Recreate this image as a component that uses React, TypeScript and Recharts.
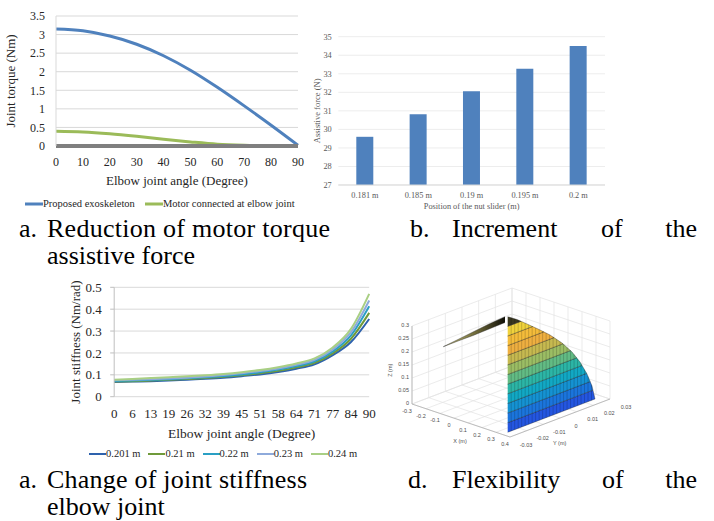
import React from 'react';
import {
  LineChart,
  Line,
  BarChart,
  Bar,
  ComposedChart,
  Area,
  Scatter,
  XAxis,
  YAxis,
  CartesianGrid,
  Legend,
} from 'recharts';

const SERIF = '"Liberation Serif", "Times New Roman", serif';
const SANS = '"Liberation Sans", Arial, sans-serif';

// a. motor torque vs elbow angle
const torqueAngles = [0, 10, 20, 30, 40, 50, 60, 70, 80, 90];
const proposedTorque = [3.15, 3.1, 2.96, 2.74, 2.43, 2.04, 1.58, 1.08, 0.56, 0.02];
const motorTorque = [0.4, 0.38, 0.33, 0.26, 0.18, 0.11, 0.05, 0.02, 0.005, 0];
const torqueTicks = [0, 0.5, 1, 1.5, 2, 2.5, 3, 3.5];

// b. assistive force vs nut slider position
const sliderPositions = ['0.181 m', '0.185 m', '0.19 m', '0.195 m', '0.2 m'];
const assistiveForce = [29.6, 30.82, 32.06, 33.27, 34.5];
const forceTicks = [27, 28, 29, 30, 31, 32, 33, 34, 35];

// c. joint stiffness vs elbow angle
const stiffnessAngles = ['0', '6', '13', '19', '26', '32', '39', '45', '51', '58', '64', '71', '77', '84', '90'];
const k201 = [0.067, 0.069, 0.071, 0.074, 0.078, 0.082, 0.087, 0.094, 0.102, 0.113, 0.128, 0.148, 0.19, 0.25, 0.355];
const k21 = [0.069, 0.071, 0.074, 0.077, 0.081, 0.085, 0.091, 0.098, 0.107, 0.118, 0.134, 0.155, 0.198, 0.265, 0.383];
const k22 = [0.072, 0.074, 0.077, 0.08, 0.084, 0.089, 0.095, 0.102, 0.112, 0.124, 0.14, 0.162, 0.207, 0.28, 0.413];
const k23 = [0.075, 0.077, 0.08, 0.083, 0.087, 0.092, 0.099, 0.107, 0.117, 0.129, 0.146, 0.168, 0.216, 0.295, 0.44];
const k24 = [0.078, 0.081, 0.085, 0.089, 0.093, 0.098, 0.104, 0.112, 0.122, 0.135, 0.152, 0.175, 0.225, 0.31, 0.47];
const stiffnessTicks = [0, 0.1, 0.2, 0.3, 0.4, 0.5];
const slotEdges = [0, 1, 2, 3, 4, 5, 6, 7, 8, 9, 10, 11, 12, 13, 14, 15];

// d. workspace box ticks (m)
const wsX = [-0.3, -0.2, -0.1, 0, 0.1, 0.2, 0.3, 0.4];
const wsY = [-0.03, -0.02, -0.01, 0, 0.01, 0.02, 0.03];
const wsZ = [0, 0.05, 0.1, 0.15, 0.2, 0.25, 0.3];
// surface outline, in the panel's view units
const surfArcU = [507.7, 517, 527, 538, 550, 562, 572, 580, 587, 592, 595];
const surfArcV = [316.7, 319.5, 324, 329, 335, 343, 352, 362, 374, 386, 399];
const surfBottomV = 432.3;
const surfColors = [
  '#2456e0', '#1b75dc', '#1592d2', '#12a8c4', '#2cb5a6', '#62bb84',
  '#9bbd64', '#c6b950', '#eeaf40', '#f4bc3a', '#f0d23c', '#3a3820',
];
const sliverU = [443.3, 458, 473, 489, 505];
const sliverTop = [346.7, 339.5, 332, 324, 316.7];
const sliverBottom = [346.7, 341, 335.5, 329, 322.5];

const torqueData = torqueAngles.map((a, i) => ({ angle: a, proposed: proposedTorque[i], motor: motorTorque[i] }));
const forceData = sliderPositions.map((p, i) => ({ pos: p, force: assistiveForce[i] }));
const stiffnessData = stiffnessAngles.map((a, i) => ({
  angle: a,
  slot: i + 0.5,
  s201: k201[i],
  s21: k21[i],
  s22: k22[i],
  s23: k23[i],
  s24: k24[i],
}));

const XTitle = (props: any) => {
  const { viewBox, text, dy, size, fill = '#262626', family = SERIF } = props;
  return (
    <text x={viewBox.x + viewBox.width / 2} y={viewBox.y + dy} textAnchor="middle" fontFamily={family} fontSize={size} fill={fill}>
      {text}
    </text>
  );
};

const YTitle = (props: any) => {
  const { viewBox, text, tx, size, fill = '#262626' } = props;
  const x = viewBox.x + tx;
  const y = viewBox.y + viewBox.height / 2;
  return (
    <text x={x} y={y} transform={`rotate(-90, ${x}, ${y})`} textAnchor="middle" fontFamily={SERIF} fontSize={size} fill={fill}>
      {text}
    </text>
  );
};

const LineLegend = (props: any) => {
  const { payload = [], fontSize, iconWidth, gap, thick, order = [] } = props;
  const items = payload
    .filter((p: any) => p.type !== 'none' && order.includes(p.value))
    .sort((a: any, b: any) => order.indexOf(a.value) - order.indexOf(b.value));
  return (
    <div style={{ display: 'flex', alignItems: 'center', fontFamily: SERIF, fontSize, color: '#262626', whiteSpace: 'nowrap', lineHeight: '12px' }}>
      {items.map((p: any) => (
        <span key={p.value} style={{ display: 'inline-flex', alignItems: 'center', marginRight: gap }}>
          <svg width={iconWidth} height={6}>
            <line x1={0} y1={3} x2={iconWidth} y2={3} stroke={p.color} strokeWidth={thick} />
          </svg>
          <span>{p.value}</span>
        </span>
      ))}
    </div>
  );
};

const torqueSeries = [
  { key: 'proposed', name: 'Proposed exoskeleton', color: '#4f81bd' },
  { key: 'motor', name: 'Motor connected at elbow joint', color: '#9bbb59' },
];

const TorqueChart = () => (
  <LineChart width={310} height={215} data={torqueData} margin={{ top: 16, right: 12, bottom: 29, left: 0 }}>
    <CartesianGrid vertical={false} stroke="#d9d9d9" />
    <XAxis
      dataKey="angle"
      type="number"
      domain={[0, 90]}
      ticks={torqueAngles}
      interval={0}
      height={40}
      axisLine={{ stroke: '#7f7f7f', strokeWidth: 4 }}
      tickLine={false}
      tickMargin={5}
      tick={{ fontSize: 12, fontFamily: SERIF, fill: '#262626' }}
      label={<XTitle text="Elbow joint angle (Degree)" dy={38.5} size={13} />}
    />
    <YAxis
      domain={[0, 3.5]}
      ticks={torqueTicks}
      interval={0}
      width={56}
      axisLine={{ stroke: '#d9d9d9' }}
      tickLine={false}
      tickMargin={5}
      tick={{ fontSize: 12, fontFamily: SERIF, fill: '#262626' }}
      label={<YTitle text="Joint torque (Nm)" tx={14.5} size={13} />}
    />
    <Legend
      verticalAlign="middle"
      align="center"
      wrapperStyle={{ top: 198, left: 25, width: 300 }}
      content={<LineLegend fontSize={10.5} iconWidth={18} gap={10} thick={3} order={torqueSeries.map((s) => s.name)} />}
    />
    {torqueSeries.map((s) => (
      <Line key={s.key} type="monotone" dataKey={s.key} name={s.name} stroke={s.color} strokeWidth={3} dot={false} isAnimationActive={false} />
    ))}
  </LineChart>
);

const ForceChart = () => (
  <BarChart width={320} height={215} data={forceData} margin={{ top: 36.7, right: 15, bottom: 0, left: 0 }}>
    <CartesianGrid vertical={false} stroke="#ededed" />
    <XAxis
      dataKey="pos"
      height={30}
      axisLine={{ stroke: '#d9d9d9' }}
      tickLine={false}
      tickMargin={1}
      interval={0}
      tick={{ fontSize: 8.3, fontFamily: SERIF, fill: '#595959' }}
      label={<XTitle text="Position of the nut slider (m)" dy={23.5} size={8.3} fill="#595959" />}
    />
    <YAxis
      domain={[27, 35]}
      ticks={forceTicks}
      interval={0}
      width={38.3}
      axisLine={false}
      tickLine={false}
      tickMargin={0.6}
      tick={{ fontSize: 8.3, fontFamily: SERIF, fill: '#595959' }}
      label={<YTitle text="Assistive force (N)" tx={20} size={8.5} fill="#595959" />}
    />
    <Bar dataKey="force" fill="#4f81bd" barSize={17} isAnimationActive={false} />
  </BarChart>
);

const stiffnessSeries = [
  { key: 's201', name: '0.201 m', color: '#2e62ad' },
  { key: 's21', name: '0.21 m', color: '#6f9a3a' },
  { key: 's22', name: '0.22 m', color: '#2a9fc4' },
  { key: 's23', name: '0.23 m', color: '#8eaadb' },
  { key: 's24', name: '0.24 m', color: '#a9cf84' },
];

const StiffnessChart = () => (
  <LineChart width={380} height={200} data={stiffnessData} margin={{ top: 17.3, right: 10.8, bottom: 33.3, left: 0 }}>
    <CartesianGrid vertical={false} stroke="#d9d9d9" xAxisId="cat" />
    <XAxis
      xAxisId="marks"
      type="number"
      dataKey="slot"
      domain={[0, 15]}
      allowDataOverflow
      ticks={slotEdges}
      interval={0}
      tick={false}
      height={0}
      tickSize={4}
      axisLine={{ stroke: '#bfbfbf' }}
      tickLine={{ stroke: '#bfbfbf' }}
    />
    <XAxis
      xAxisId="cat"
      dataKey="angle"
      height={40}
      axisLine={false}
      tickLine={false}
      interval={0}
      tickMargin={6.4}
      tick={{ fontSize: 13, fontFamily: SERIF, fill: '#262626' }}
      label={<XTitle text="Elbow joint angle (Degree)" dy={41.3} size={13.5} />}
    />
    <YAxis
      domain={[0, 0.5]}
      ticks={stiffnessTicks}
      interval={0}
      width={114.2}
      tickSize={4}
      axisLine={{ stroke: '#bfbfbf' }}
      tickLine={{ stroke: '#bfbfbf' }}
      tickMargin={8.5}
      tick={{ fontSize: 13, fontFamily: SERIF, fill: '#262626' }}
      label={<YTitle text="Joint stiffness (Nm/rad)" tx={80} size={13} />}
    />
    <Legend
      verticalAlign="middle"
      align="center"
      wrapperStyle={{ top: 177.5, left: 89, width: 290 }}
      content={<LineLegend fontSize={10.5} iconWidth={17} gap={8} thick={2} order={stiffnessSeries.map((s) => s.name)} />}
    />
    <Line xAxisId="marks" dataKey="s201" name="marks" stroke="none" legendType="none" dot={false} activeDot={false} isAnimationActive={false} />
    {stiffnessSeries.map((s) => (
      <Line
        key={s.key}
        xAxisId="cat"
        type="monotone"
        dataKey={s.key}
        name={s.name}
        stroke={s.color}
        strokeWidth={2}
        dot={false}
        isAnimationActive={false}
      />
    ))}
  </LineChart>
);

// view of the 3D box: X runs to the lower right, Y to the upper right, Z up
const xMin = wsX[0];
const xMax = wsX[wsX.length - 1];
const yMin = wsY[0];
const yMax = wsY[wsY.length - 1];
const zMax = wsZ[wsZ.length - 1];
const proj = (X: number, Y: number, Z: number) => {
  const fx = (X - xMin) / (xMax - xMin);
  const fy = (Y - yMin) / (yMax - yMin);
  const fz = Z / zMax;
  return { u: 412 + fx * 98 + fy * 100, v: 404 + fx * 33 - fy * 38 - fz * 78 };
};
const seg = (a: number[], b: number[]) => [proj(a[0], a[1], a[2]), proj(b[0], b[1], b[2])];

const gridSegs = [
  ...wsX.map((x) => seg([x, yMin, 0], [x, yMax, 0])),
  ...wsY.map((y) => seg([xMin, y, 0], [xMax, y, 0])),
  ...wsY.map((y) => seg([xMin, y, 0], [xMin, y, zMax])),
  ...wsZ.map((z) => seg([xMin, yMin, z], [xMin, yMax, z])),
  ...wsX.map((x) => seg([x, yMax, 0], [x, yMax, zMax])),
  ...wsZ.map((z) => seg([xMin, yMax, z], [xMax, yMax, z])),
];
const axisSegs = [
  seg([xMin, yMin, 0], [xMax, yMin, 0]),
  seg([xMax, yMin, 0], [xMax, yMax, 0]),
  seg([xMin, yMin, 0], [xMin, yMin, zMax]),
];

const fmt = (n: number) => String(Math.round(n * 1000) / 1000);
const wsLabels = [
  ...wsX.map((x) => { const p = proj(x, yMin, 0); return { u: p.u - 5, v: p.v + 9, label: fmt(x), anchor: 'middle' }; }),
  ...wsY.map((y) => { const p = proj(xMax, y, 0); return { u: p.u + 16, v: p.v + 9.5, label: fmt(y), anchor: 'middle' }; }),
  ...wsZ.map((z) => { const p = proj(xMin, yMin, z); return { u: p.u - 3, v: p.v + 1, label: fmt(z), anchor: 'end' }; }),
  (() => { const p = proj(0.05, yMin, 0); return { u: p.u - 1, v: p.v + 22, label: 'X (m)', anchor: 'middle' }; })(),
  (() => { const p = proj(xMax, -0.005, 0); return { u: p.u + 8, v: p.v + 24, label: 'Y (m)', anchor: 'middle' }; })(),
];
const zTitle = (() => { const p = proj(xMin, yMin, 0.13); return [{ u: p.u - 20, v: p.v, label: 'Z (m)', anchor: 'middle', rot: true }]; })();

const arcLast = surfArcU.length - 1;
const surfLeftU = surfArcU[0];
const bandStep = (surfBottomV - surfArcV[0]) / surfColors.length;
const edgeSlope = (surfBottomV - surfArcV[arcLast]) / (surfArcU[arcLast] - surfLeftU);
const bandLineV = (k: number, u: number) => surfBottomV - k * bandStep - edgeSlope * (u - surfLeftU);
const arcV = (u: number) => {
  for (let j = 0; j < arcLast; j++) {
    if (u <= surfArcU[j + 1]) {
      const t = (u - surfArcU[j]) / (surfArcU[j + 1] - surfArcU[j]);
      return surfArcV[j] + t * (surfArcV[j + 1] - surfArcV[j]);
    }
  }
  return surfArcV[arcLast];
};
const crossing = (k: number) => {
  for (let j = 0; j < arcLast; j++) {
    const f0 = bandLineV(k, surfArcU[j]) - surfArcV[j];
    const f1 = bandLineV(k, surfArcU[j + 1]) - surfArcV[j + 1];
    if (f0 >= 0 && f1 <= 0) {
      const t = f0 === f1 ? 0 : f0 / (f0 - f1);
      const u = surfArcU[j] + t * (surfArcU[j + 1] - surfArcU[j]);
      return { u, v: bandLineV(k, u) };
    }
  }
  return { u: surfArcU[arcLast], v: surfArcV[arcLast] };
};
const bands = surfColors.map((color, k) => {
  const lo = crossing(k);
  const hi = crossing(k + 1);
  const pts = [
    { u: surfLeftU, r: [bandLineV(k, surfLeftU), bandLineV(k + 1, surfLeftU)] },
    { u: hi.u, r: [bandLineV(k, hi.u), hi.v] },
  ];
  surfArcU.forEach((u, j) => {
    if (u > hi.u && u < lo.u) pts.push({ u, r: [bandLineV(k, u), surfArcV[j]] });
  });
  pts.push({ u: lo.u, r: [lo.v, lo.v] });
  return { color, pts };
});
const meridianCount = 25;
const meridians = Array.from({ length: meridianCount - 1 }, (_, m) => {
  const u = surfLeftU + ((m + 1) / meridianCount) * (surfArcU[arcLast] - surfLeftU);
  return [{ u, v: bandLineV(0, u) }, { u, v: arcV(u) }];
});
const sliverData = sliverU.map((u, i) => ({ u, r: [sliverBottom[i], sliverTop[i]] }));

const WsLabel = (p: any) => {
  const { cx, cy, payload } = p;
  return (
    <text
      x={cx}
      y={cy}
      textAnchor={payload.anchor}
      transform={payload.rot ? `rotate(-90, ${cx}, ${cy})` : undefined}
      fontFamily={SANS}
      fontSize={5.5}
      fill="#4d4d4d"
    >
      {payload.label}
    </text>
  );
};

const WorkspaceChart = () => (
  <ComposedChart width={334} height={190} margin={{ top: 0, right: 0, bottom: 0, left: 0 }}>
    <defs>
      <linearGradient id="sliverGrad" x1="0" y1="0" x2="1" y2="0">
        <stop offset="0%" stopColor="#c9c27a" />
        <stop offset="55%" stopColor="#6b6637" />
        <stop offset="100%" stopColor="#101008" />
      </linearGradient>
    </defs>
    <XAxis type="number" dataKey="u" domain={[380, 714]} allowDataOverflow hide />
    <YAxis type="number" dataKey="v" domain={[270, 460]} allowDataOverflow reversed hide />
    {gridSegs.map((s, i) => (
      <Line key={`g${i}`} data={s} dataKey="v" stroke="#e2e2e2" strokeWidth={0.7} dot={false} activeDot={false} legendType="none" isAnimationActive={false} zIndex={20} />
    ))}
    {axisSegs.map((s, i) => (
      <Line key={`a${i}`} data={s} dataKey="v" stroke="#a8a8a8" strokeWidth={0.7} dot={false} activeDot={false} legendType="none" isAnimationActive={false} zIndex={30} />
    ))}
    {bands.map((b, i) => (
      <Area
        key={`b${i}`}
        data={b.pts}
        dataKey="r"
        type="linear"
        fill={b.color}
        fillOpacity={1}
        stroke="#1a1a1a"
        strokeWidth={0.5}
        strokeOpacity={0.7}
        dot={false}
        activeDot={false}
        legendType="none"
        isAnimationActive={false}
        zIndex={100}
      />
    ))}
    {meridians.map((s, i) => (
      <Line key={`m${i}`} data={s} dataKey="v" stroke="#000" strokeOpacity={0.3} strokeWidth={0.6} dot={false} activeDot={false} legendType="none" isAnimationActive={false} zIndex={150} />
    ))}
    <Area data={sliverData} dataKey="r" type="linear" fill="url(#sliverGrad)" fillOpacity={1} stroke="#222" strokeWidth={0.4} dot={false} activeDot={false} legendType="none" isAnimationActive={false} zIndex={160} />
    <Scatter data={wsLabels} shape={<WsLabel />} isAnimationActive={false} legendType="none" />
    <Scatter data={zTitle} shape={<WsLabel />} isAnimationActive={false} legendType="none" />
  </ComposedChart>
);

const Captions = () => (
  <svg width={714} height={521} style={{ position: 'absolute', left: 0, top: 0, pointerEvents: 'none' }} fontFamily={SERIF} fontSize={26} fill="#000">
    <text x={19} y={237}>a.</text>
    <text x={47} y={237} textLength={283}>Reduction of motor torque</text>
    <text x={47} y={264}>assistive force</text>
    <text x={410} y={237}>b.</text>
    <text x={452} y={237}>Increment</text>
    <text x={601} y={237}>of</text>
    <text x={697} y={237} textAnchor="end">the</text>
    <text x={19} y={488}>a.</text>
    <text x={47} y={488} textLength={260}>Change of joint stiffness</text>
    <text x={47} y={515}>elbow joint</text>
    <text x={408} y={488}>d.</text>
    <text x={452} y={488}>Flexibility</text>
    <text x={602} y={488}>of</text>
    <text x={697} y={488} textAnchor="end">the</text>
  </svg>
);

export default function App() {
  return (
    <div style={{ position: 'absolute', left: 0, top: 0, width: 714, height: 521, background: '#fff', overflow: 'hidden' }}>
      <div style={{ position: 'absolute', left: 0, top: 0 }}>
        <TorqueChart />
      </div>
      <div style={{ position: 'absolute', left: 300, top: 0 }}>
        <ForceChart />
      </div>
      <div style={{ position: 'absolute', left: 0, top: 270 }}>
        <StiffnessChart />
      </div>
      <div style={{ position: 'absolute', left: 380, top: 270 }}>
        <WorkspaceChart />
      </div>
      <Captions />
    </div>
  );
}
